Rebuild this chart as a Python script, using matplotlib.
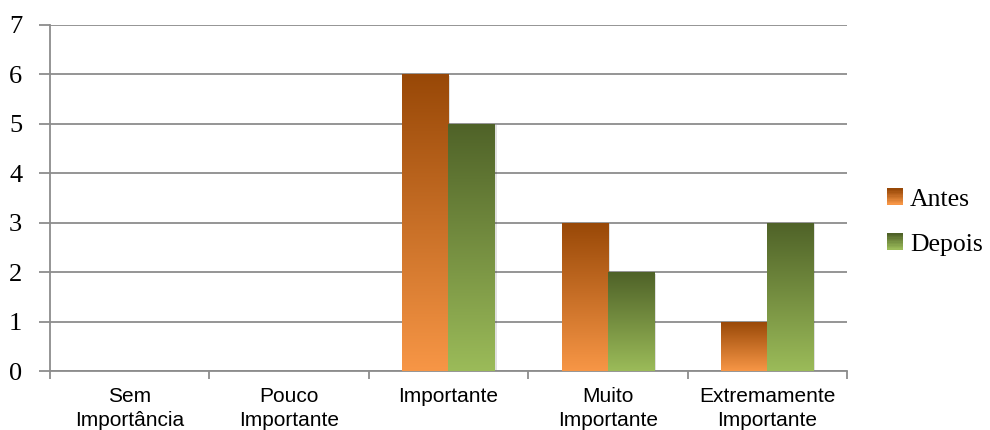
import matplotlib
matplotlib.use("Agg")
import matplotlib.pyplot as plt
import numpy as np
from matplotlib.colors import LinearSegmentedColormap
from matplotlib.patches import Rectangle
from matplotlib.legend_handler import HandlerBase

# data
categorias = ["Sem\nImportância", "Pouco\nImportante", "Importante",
              "Muito\nImportante", "Extremamente\nImportante"]
antes = [0, 0, 6, 3, 1]
depois = [0, 0, 5, 2, 3]
series_nomes = ["Antes", "Depois"]

# gradient colours (bottom, top)
cores = {
    "Antes": ("#F79646", "#984807"),
    "Depois": ("#9BBB59", "#4F6228"),
}

fig = plt.figure(figsize=(9.9, 4.3), dpi=100)
ax = fig.add_axes([0.0505, 0.137, 0.805, 0.805])

x = np.arange(len(categorias))
w = 0.29

grad = np.linspace(0, 1, 256).reshape(-1, 1)


def gradient_bars(xpos, valores, nome):
    cmap = LinearSegmentedColormap.from_list(nome, list(cores[nome]))
    bars = ax.bar(xpos, valores, w, color="none", edgecolor="none", zorder=3)
    for b in bars:
        h = b.get_height()
        if h <= 0:
            continue
        x0 = b.get_x()
        # light shadow
        ax.add_patch(Rectangle((x0 + 0.012, -0.03), b.get_width(), h,
                               facecolor="#000000", alpha=0.12,
                               edgecolor="none", zorder=2.5))
        im = ax.imshow(grad, extent=[x0, x0 + b.get_width(), 0, h],
                       origin="lower", aspect="auto", cmap=cmap, zorder=3,
                       interpolation="bilinear")
        im.set_clip_path(b)


gradient_bars(x - w / 2, antes, "Antes")
gradient_bars(x + w / 2, depois, "Depois")

ax.set_xlim(-0.5, len(categorias) - 0.5)
ax.set_ylim(0, 7)

# gridlines and axes in Excel style
ax.set_yticks(range(0, 8))
ax.yaxis.grid(True, color="#8c8c8c", linewidth=1.3, zorder=0)
ax.set_axisbelow(True)
for s in ["top", "right"]:
    ax.spines[s].set_visible(False)
for s in ["left", "bottom"]:
    ax.spines[s].set_color("#8c8c8c")
    ax.spines[s].set_linewidth(1.3)

ax.tick_params(axis="y", length=8, width=1.3, color="#8c8c8c", pad=12,
               labelsize=19)
for lab in ax.get_yticklabels():
    lab.set_fontfamily("Liberation Serif")

# category boundaries as ticks, labels centred between them
ax.set_xticks(np.arange(-0.5, len(categorias), 1.0))
ax.set_xticklabels([])
ax.set_xticks(x, minor=True)
ax.set_xticklabels(categorias, minor=True, fontfamily="Liberation Sans",
                   fontsize=15, linespacing=1.3)
ax.tick_params(axis="x", which="major", length=6, width=1.3, color="#8c8c8c")
ax.tick_params(axis="x", which="minor", length=0, pad=11.5)


class GradHandler(HandlerBase):
    def __init__(self, c0, c1):
        super().__init__()
        self.c0, self.c1 = c0, c1

    def create_artists(self, legend, orig_handle, xdescent, ydescent,
                       width, height, fontsize, trans):
        cmap = LinearSegmentedColormap.from_list("g", [self.c0, self.c1])
        n = 12
        arts = []
        size = height
        x0 = -xdescent + (width - size)
        for i in range(n):
            arts.append(Rectangle((x0, -ydescent + size * i / n), size,
                                  size / n + 0.3, facecolor=cmap(i / (n - 1)),
                                  edgecolor="none", transform=trans))
        return arts


h1 = Rectangle((0, 0), 1, 1)
h2 = Rectangle((0, 0), 1, 1)
leg = fig.legend([h1, h2], series_nomes, loc="center left",
                 bbox_to_anchor=(888 / 990, 1 - 222 / 430), frameon=False,
                 prop={"family": "Liberation Serif", "size": 18.5},
                 borderpad=0, borderaxespad=0,
                 handlelength=0.6, handleheight=0.6, handletextpad=0.25,
                 labelspacing=0.88,
                 handler_map={h1: GradHandler(*cores["Antes"]),
                              h2: GradHandler(*cores["Depois"])})

fig.savefig("out.png", dpi=100)
